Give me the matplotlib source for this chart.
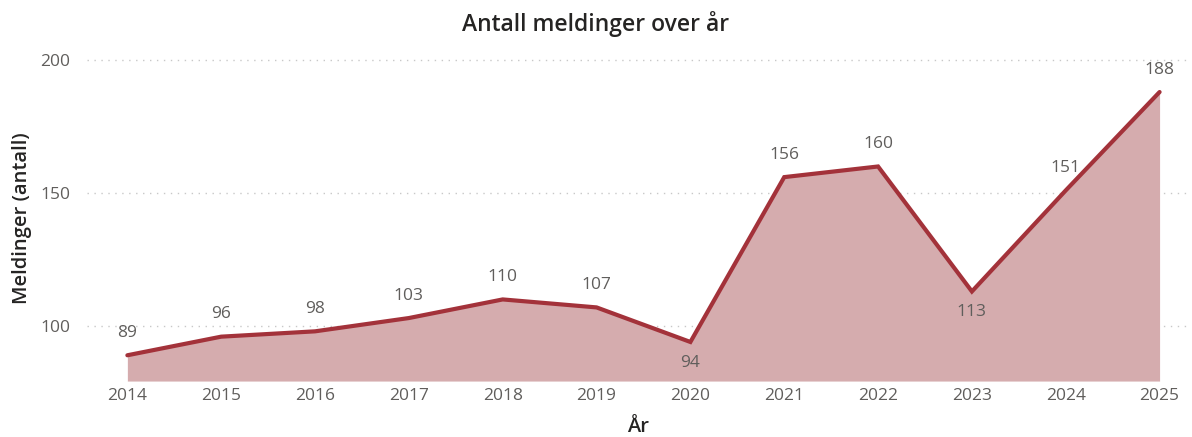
import numpy as np
import matplotlib
matplotlib.use("Agg")
import matplotlib.pyplot as plt

plt.rcParams['font.family'] = ['Open Sans', 'DejaVu Sans']

years = [2014, 2015, 2016, 2017, 2018, 2019, 2020, 2021, 2022, 2023, 2024, 2025]
counts = [89, 96, 98, 103, 110, 107, 94, 156, 160, 113, 151, 188]
below = [2020, 2023]  # labels placed under the point

line_col = '#A3323A'
fill_col = '#D5ACAE'
text_col = '#605E5C'

fig = plt.figure(figsize=(11.92, 4.37), dpi=100)
ax = fig.add_axes([0.073, 0.128, 0.925, 0.746])

ymin = 79.3
ax.fill_between(years, counts, ymin, color=fill_col, lw=0)
ax.plot(years, counts, color=line_col, lw=3, solid_capstyle='round', solid_joinstyle='miter')

for x, y in zip(years, counts):
    if x in below:
        ax.annotate(str(y), (x, y), xytext=(0, -15), textcoords='offset points',
                    ha='center', va='center', fontsize=12.5, color=text_col)
    else:
        ax.annotate(str(y), (x, y), xytext=(0, 16), textcoords='offset points',
                    ha='center', va='center', fontsize=12.5, color=text_col)

ax.set_xlim(2013.57, 2025.32)
ax.set_ylim(ymin, 201.9)
ax.set_xticks(years)
ax.set_yticks([100, 150, 200])
ax.tick_params(axis='both', length=0, labelsize=12.5, labelcolor=text_col)
ax.tick_params(axis='x', pad=5)
ax.tick_params(axis='y', pad=12)
ax.grid(axis='y', linestyle=(0, (1, 4)), color='#C8C8C8', lw=1)
ax.set_axisbelow(True)
for s in ax.spines.values():
    s.set_visible(False)

ax.set_xlabel('År', fontsize=14.5, color='#252423', labelpad=9, fontweight='semibold')
ax.set_ylabel('Meldinger (antall)', fontsize=14.5, color='#252423', labelpad=6,
              fontweight='semibold')
fig.suptitle('Antall meldinger over år', fontsize=16.5, color='#252423', y=0.975,
             fontweight='semibold')

fig.savefig('out.png', dpi=100)
